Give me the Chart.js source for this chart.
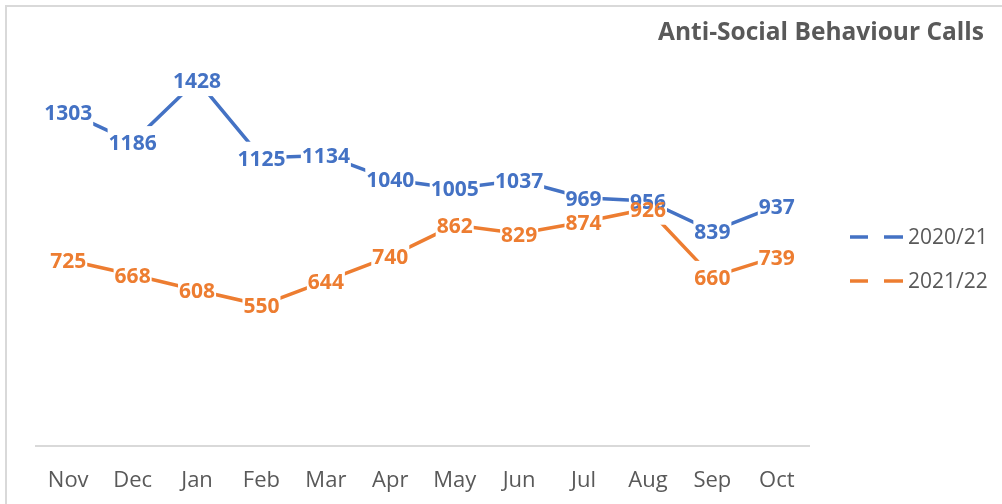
<!DOCTYPE html>
<html>
<head>
<meta charset="utf-8">
<script src="https://cdn.jsdelivr.net/npm/chart.js@4.4.1/dist/chart.umd.min.js"></script>
<style>
  html, body { margin: 0; padding: 0; background: #ffffff; }
  #wrap { position: relative; width: 1002px; height: 504px; }
  canvas { display: block; }
</style>
</head>
<body>
<div id="wrap"><canvas id="c" width="1002" height="504"></canvas></div>
<script>
const chartTitle = "Anti-Social Behaviour Calls";
const months = ["Nov", "Dec", "Jan", "Feb", "Mar", "Apr", "May", "Jun", "Jul", "Aug", "Sep", "Oct"];
const seriesNames = ["2020/21", "2021/22"];
const calls2020 = [1303, 1186, 1428, 1125, 1134, 1040, 1005, 1037, 969, 956, 839, 937];
const calls2021 = [725, 668, 608, 550, 644, 740, 862, 829, 874, 926, 660, 739];
const yMin = 0;
const yMax = 1600;

const BLUE = "#4472C4";
const ORANGE = "#ED7D31";
const GREY = "#595959";
const FONT = "'Open Sans', 'DejaVu Sans', sans-serif";

const decorPlugin = {
  id: "decor",
  beforeDraw(chart) {
    const ctx = chart.ctx;
    ctx.save();
    ctx.fillStyle = "#ffffff";
    ctx.fillRect(0, 0, chart.width, chart.height);
    ctx.strokeStyle = "#D9D9D9";
    ctx.lineWidth = 2;
    ctx.strokeRect(6, 6, chart.width + 20, chart.height + 20);
    ctx.restore();
  },
  afterDatasetsDraw(chart) {
    const ctx = chart.ctx;
    ctx.save();
    ctx.font = "bold 21px " + FONT;
    ctx.textAlign = "center";
    ctx.textBaseline = "middle";
    const items = [];
    chart.data.datasets.forEach((ds, di) => {
      const meta = chart.getDatasetMeta(di);
      meta.data.forEach((pt, i) => {
        const txt = String(ds.data[i]);
        const w = ctx.measureText(txt).width;
        items.push({ x: pt.x, y: pt.y, txt, w, color: ds.borderColor });
      });
    });
    ctx.fillStyle = "#ffffff";
    items.forEach(it => {
      ctx.fillRect(it.x - it.w / 2 - 1, it.y - 16, it.w + 2, 32);
    });
    items.forEach(it => {
      ctx.fillStyle = it.color;
      ctx.fillText(it.txt, it.x, it.y + 2);
    });
    ctx.restore();
  },
  afterDraw(chart) {
    const ctx = chart.ctx;
    ctx.save();
    ctx.font = "bold 24.5px " + FONT;
    ctx.fillStyle = GREY;
    ctx.textAlign = "right";
    ctx.textBaseline = "middle";
    ctx.fillText(chartTitle, 984, 33);
    const legendY = [237, 281];
    const colors = [BLUE, ORANGE];
    seriesNames.forEach((name, i) => {
      const y = legendY[i];
      ctx.strokeStyle = colors[i];
      ctx.lineWidth = 3.5;
      ctx.beginPath();
      ctx.moveTo(850, y); ctx.lineTo(868, y);
      ctx.moveTo(884, y); ctx.lineTo(903, y);
      ctx.stroke();
      ctx.fillStyle = GREY;
      ctx.font = "21px " + FONT;
      ctx.textAlign = "left";
      ctx.textBaseline = "middle";
      ctx.fillText(name, 908, y + 1);
    });
    ctx.restore();
  }
};

new Chart(document.getElementById("c"), {
  type: "line",
  data: {
    labels: months,
    datasets: [
      { label: seriesNames[0], data: calls2020, borderColor: BLUE, backgroundColor: BLUE, borderWidth: 3.5, pointRadius: 0, tension: 0, fill: false },
      { label: seriesNames[1], data: calls2021, borderColor: ORANGE, backgroundColor: ORANGE, borderWidth: 3.5, pointRadius: 0, tension: 0, fill: false }
    ]
  },
  options: {
    responsive: false,
    animation: false,
    devicePixelRatio: 1,
    layout: { padding: { left: 36, right: 193, top: 36, bottom: 0 } },
    plugins: { legend: { display: false }, title: { display: false }, tooltip: { enabled: false } },
    scales: {
      x: {
        offset: true,
        grid: { display: false, drawTicks: false },
        border: { display: true, color: "#D9D9D9", width: 2 },
        ticks: { color: GREY, font: { family: FONT, size: 22 }, padding: 22, maxRotation: 0, autoSkip: false },
        afterFit(scale) { scale.height = 58; }
      },
      y: {
        display: false,
        min: yMin,
        max: yMax
      }
    }
  },
  plugins: [decorPlugin]
});
</script>
</body>
</html>
